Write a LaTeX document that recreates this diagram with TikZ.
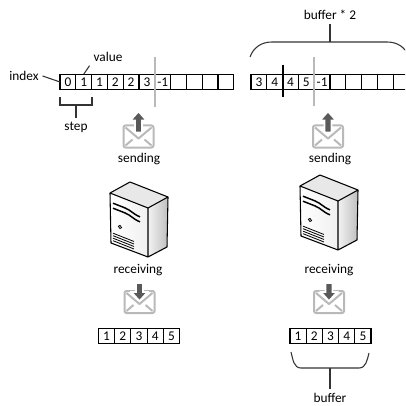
\documentclass[tikz,border=0pt]{standalone}
\usepackage{fontspec}
\setmainfont{Carlito}
\usetikzlibrary{positioning}

\begin{document}
\begin{tikzpicture}[
		x=0.75pt, y=-0.75pt,
		cell/.style={draw, line width=0.8pt, minimum width=11.85pt, minimum height=11.6pt, inner sep=0pt, outer sep=0pt},
		outcell/.style={cell, minimum width=12.15pt, minimum height=11pt},
		tag/.style={inner sep=1pt, outer sep=2pt},
		marker/.style={gray!55, line width=1.1pt},
		brace/.style={line width=0.8pt, black!80},
		mail/.style={gray!55, line width=1.5pt, line join=round},
		envelope/.pic={
			\draw[mail, rounded corners=1.5pt] (-15,-11) rectangle (15,11);
			\draw[mail] (-13,-9) -- (0,2) -- (13,-9) (-13,9) -- (-6,3) (13,9) -- (6,3);
		},
		mailsend/.pic={
			\pic {envelope};
			\filldraw[black!65, draw=white, line width=1.2pt] (-3.5,-4) -- (-3.5,-16) -- (-8,-16) -- (0,-25) -- (8,-16) -- (3.5,-16) -- (3.5,-4) -- cycle;
		},
		mailrecv/.pic={
			\pic {envelope};
			\filldraw[black!65, draw=white, line width=1.2pt] (-3.5,-19) -- (-3.5,-10) -- (-8,-10) -- (0,-1) -- (8,-10) -- (3.5,-10) -- (3.5,-19) -- cycle;
		},
		server/.pic={
			\fill[gray!18] (0,11) -- (20,0) -- (58,15) -- (38,26) -- cycle;
			\shade[left color=white, right color=gray!12] (0,11) -- (38,26) -- (38,75) -- (1,61) -- cycle;
			\shade[left color=gray!10, right color=gray!50] (38,26) -- (58,15) -- (57,65) -- (38,75) -- cycle;
			\draw[line width=0.8pt, line join=round] (0,11) -- (20,0) -- (58,15) -- (57,65) -- (38,75) -- (1,61) -- cycle
				(0,11) -- (38,26) -- (58,15) (38,26) -- (38,75);
			% drive bays, button and vents on the front
			\begin{scope}[yslant=-0.395]
				\draw[line width=1.1pt] (3,20) -- (15,20) .. controls (21,20) and (23,23) .. (30,23);
				\draw[line width=1.1pt] (3,25) -- (15,25) .. controls (21,25) and (23,28) .. (30,28);
				\draw[line width=0.6pt] (10,41) circle (1.6);
				\foreach \k in {0,...,3}
					\draw[line width=0.6pt] (3,{50+2.5*\k}) -- (24,{50+2.5*\k});
			\end{scope}
		}
	]
	\useasboundingbox (0,0) rectangle (405,406);
	\clip (0,0) rectangle (405,406);

	% ring buffers on top
	\foreach \v [count=\i] in {0,1,1,2,2,3,-1,{},{},{},{}}
		\node[cell] (lbuf\i) at ({60+7.9+15.8*(\i-1)},82) {\v};
	\foreach \v [count=\i] in {3,4,4,5,-1,{},{},{},{},{}}
		\node[cell] (rbuf\i) at ({251+7.9+15.8*(\i-1)},82) {\v};

	% read / write positions
	\coordinate (lmark top) at (154.8,57);
	\coordinate (lmark bot) at (154.8,107);
	\coordinate (rmark top) at (314.2,57);
	\coordinate (rmark bot) at (314.2,106);
	\coordinate (rcut top) at (282.6,65);
	\coordinate (rcut bot) at (282.6,97);
	\draw[marker] (lmark top) -- (lmark bot);
	\draw[marker] (rmark top) -- (rmark bot);
	\draw[line width=1.5pt] (rcut top) -- (rcut bot);

	% labels of the left buffer
	\node[tag] (index) at (24,76) {index};
	\node[tag] (value) at (108,57) {value};
	\node[tag] (step) at (76,127) {step};
	\draw[brace] (index.east) -- (lbuf1.west);
	\draw[brace] (lbuf2.north) -- (value.south west);
	\draw[brace] (60,97) -- (60,105) -- (92,105) -- (92,97);
	\coordinate (step tip) at (76,105);
	\draw[brace] (step tip) -- (step);

	% buffer * 2
	\node[tag] (buf2) at (330,15) {buffer * 2};
	\draw[brace] (250,57) to[out=70, in=180] (272,42) -- (387,42) to[out=0, in=110] (409,57);
	\coordinate (top tip) at (330,42);
	\draw[brace] (top tip) -- (buf2);

	% icons
	\pic at (138.5,136.5) {mailsend};
	\pic at (328,136.5) {mailsend};
	\node (send l) at (139,159) {sending};
	\node (send r) at (330,159) {sending};
	\pic at (110,182) {server};
	\pic at (300,175) {server};
	\node (recv l) at (138,270) {receiving};
	\node (recv r) at (329,270) {receiving};
	\pic at (139.5,302) {mailrecv};
	\pic at (329,302) {mailrecv};

	% received data
	\foreach \v in {1,...,5} {
		\node[outcell] (lout\v) at ({98.5+8.1+16.2*(\v-1)},336) {\v};
		\node[outcell] (rout\v) at ({290+8.1+16.2*(\v-1)},336) {\v};
	}

	% buffer
	\node[tag] (buf) at (330,398) {buffer};
	\draw[brace] (291,352) to[out=-75, in=180] (301,368) -- (359,368) to[out=0, in=-105] (369,353);
	\coordinate (bot tip) at (330,368);
	\draw[brace] (bot tip) -- (buf);
\end{tikzpicture}
\end{document}
